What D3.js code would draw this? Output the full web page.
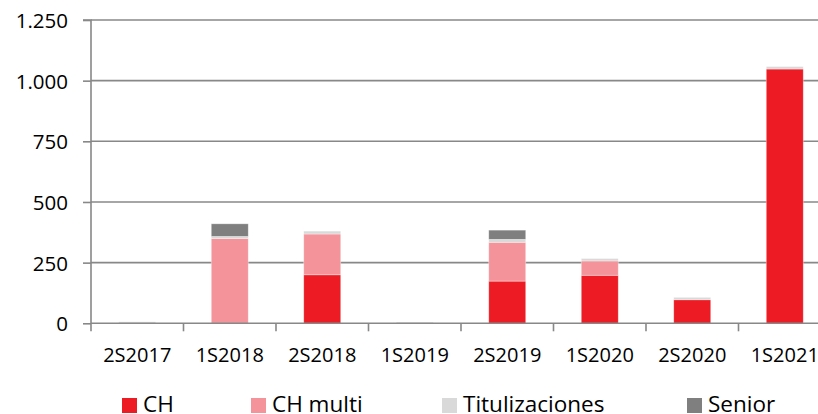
<!DOCTYPE html>
<html><head><meta charset="utf-8">
<script src="https://cdn.jsdelivr.net/npm/d3@7"></script>
<style>
html,body{margin:0;padding:0;background:#fff;overflow:hidden}
svg{display:block;font-family:"Open Sans",sans-serif}
</style></head>
<body><svg id="c" width="818" height="414"></svg>
<script>
const categories = ["2S2017","1S2018","2S2018","1S2019","2S2019","1S2020","2S2020","1S2021"];
const seriesNames = ["CH","CH multi","Titulizaciones","Senior"];
const chValues      = [0, 0, 200, 0, 174, 198, 97, 1048];
const chMultiValues = [0, 350, 168, 0, 160, 59, 0, 0];
const titValues     = [6, 8, 12, 5, 12, 10, 10, 10];
const seniorValues  = [0, 52, 0, 0, 38, 0, 0, 0];
const yTicks = [0, 250, 500, 750, 1000, 1250];
const colors = ["#ED1C24","#F4949A","#D9D9D9","#7F7F7F"];

const fmt = v => d3.format(",")(v).replace(/,/g, ".");

const svg = d3.select("#c");
const pL = 91, pR = 831, pT = 20, pB = 323.3;

const x = d3.scaleBand().domain(categories).range([pL, pR]).paddingInner(0.6).paddingOuter(0.3);
const xb = d3.scaleBand().domain(categories).range([pL, pR]);
const y = d3.scaleLinear().domain([0, 1250]).range([pB, pT]);

const rows = categories.map((c, i) => ({cat: c, "CH": chValues[i], "CH multi": chMultiValues[i], "Titulizaciones": titValues[i], "Senior": seniorValues[i]}));
const stack = d3.stack().keys(seriesNames)(rows);

// gridlines
svg.append("g").selectAll("line").data(yTicks.filter(t => t > 0)).join("line")
  .attr("x1", pL).attr("x2", 818).attr("y1", d => y(d)).attr("y2", d => y(d))
  .attr("stroke", "#888").attr("stroke-width", 1.6);

// y axis
const ya = svg.append("g").attr("transform", `translate(${pL},0)`)
  .call(d3.axisLeft(y).tickValues(yTicks).tickFormat(fmt).tickSize(8).tickPadding(15));
ya.select(".domain").attr("stroke", "#888").attr("stroke-width", 1.6).attr("d", `M-8,${y(1250)}H0V${y(0)}`);
ya.selectAll(".tick line").attr("stroke", "#888").attr("stroke-width", 1.6);
ya.selectAll(".tick text").attr("font-size", 20.5).attr("fill", "#000").attr("font-family", "Open Sans").attr("dy", "0.36em");

// bars
svg.append("g").selectAll("g").data(stack).join("g")
  .attr("fill", (d, i) => colors[i])
  .selectAll("rect").data(d => d.filter(p => p[1] - p[0] > 0)).join("rect")
  .attr("x", d => x(d.data.cat)).attr("width", x.bandwidth())
  .attr("y", d => y(d[1])).attr("height", d => y(d[0]) - y(d[1]))
  .attr("stroke", "rgba(255,255,255,0.5)").attr("stroke-width", 0.7);

// x axis
const xa = svg.append("g").attr("transform", `translate(0,${pB})`);
xa.append("line").attr("x1", pL).attr("x2", 818).attr("y1", 0).attr("y2", 0)
  .attr("stroke", "#888").attr("stroke-width", 1.6);
xa.selectAll("line.tk").data(categories.map(c => xb(c)).concat([pR])).join("line").attr("class", "tk")
  .attr("x1", d => d).attr("x2", d => d).attr("y1", 0).attr("y2", 8)
  .attr("stroke", "#888").attr("stroke-width", 1.6);
xa.selectAll("text").data(categories).join("text")
  .attr("x", d => xb(d) + xb.bandwidth() / 2).attr("y", 38.5)
  .attr("text-anchor", "middle").attr("font-size", 20).attr("fill", "#000").text(d => d);

// legend
const legX = [122, 251, 442, 687];
const lg = svg.append("g").selectAll("g").data(seriesNames).join("g")
  .attr("transform", (d, i) => `translate(${legX[i]},398)`);
lg.append("rect").attr("width", 15).attr("height", 15).attr("fill", (d, i) => colors[i]);
lg.append("text").attr("x", 21).attr("y", 14).attr("font-size", 22.5).attr("fill", "#000").text(d => d);
</script></body></html>
